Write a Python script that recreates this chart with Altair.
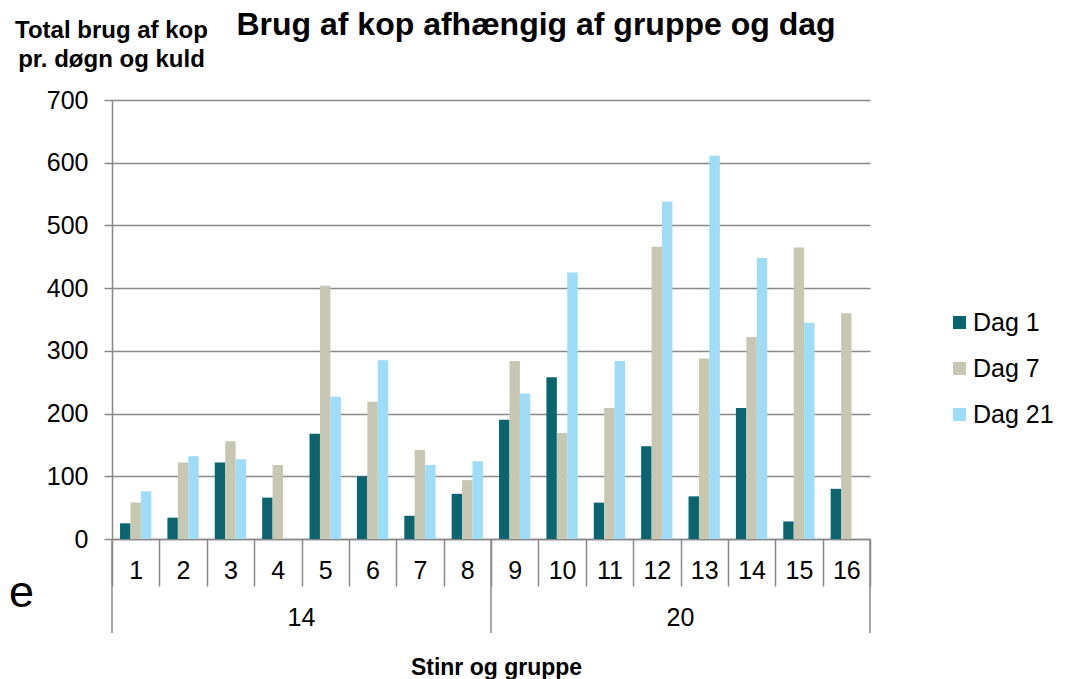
import altair as alt
import pandas as pd

# ---- data ----
stinr = [str(i) for i in range(1, 17)]
gruppe = ["14"] * 8 + ["20"] * 8
series = ["Dag 1", "Dag 7", "Dag 21"]
dag1 = [25, 34, 122, 66, 168, 100, 37, 72, 190, 258, 58, 148, 68, 209, 28, 80]
dag7 = [58, 122, 156, 118, 404, 219, 142, 94, 284, 169, 209, 466, 288, 322, 465, 360]
dag21 = [76, 132, 127, None, 227, 285, 118, 124, 232, 425, 284, 538, 611, 448, 345, None]
colors = ["#0a6570", "#c8c8b2", "#9fdcf7"]
groups = ["14", "20"]

rows = []
for s, vals in zip(series, [dag1, dag7, dag21]):
    for st, g, v in zip(stinr, gruppe, vals):
        if v is not None:
            rows.append({"stinr": st, "gruppe": g, "serie": s, "value": v})
df = pd.DataFrame(rows)

# group label position: boundary in the middle of each group's members
grp_rows = []
for g in groups:
    members = [st for st, gg in zip(stinr, gruppe) if gg == g]
    grp_rows.append({"gruppe": g, "mid": members[len(members) // 2]})
grp_df = pd.DataFrame(grp_rows)

# separators: start of each group and end of the last one
starts = pd.DataFrame({"edge": [[st for st, gg in zip(stinr, gruppe) if gg == g][0] for g in groups]})
ends = pd.DataFrame({"edge": [stinr[-1]]})

W, H = 758, 439
FONT = "Liberation Sans"
GRID = "#898989"

xscale = alt.Scale(domain=stinr, paddingInner=0, paddingOuter=0)
xaxis = alt.Axis(
    title="Stinr og gruppe",
    titleFont=FONT,
    titleFontSize=23,
    titleFontWeight="bold",
    titleColor="black",
    titleX=W / 2 + 5,
    titleY=128,
    titleBaseline="middle",
    labelAngle=0,
    labelFont=FONT,
    labelFontSize=25,
    labelColor="black",
    labelBaseline="middle",
    labelPadding=-16,
    tickBand="extent",
    tickSize=47,
    tickColor=GRID,
    tickWidth=1.5,
    domainColor=GRID,
    domainWidth=1.5,
    grid=False,
)

bars = alt.Chart(df).mark_bar().encode(
    x=alt.X("stinr:N", sort=stinr, scale=xscale, axis=xaxis),
    xOffset=alt.XOffset(
        "serie:N",
        sort=series,
        scale=alt.Scale(domain=series, paddingInner=0, paddingOuter=0.77),
    ),
    y=alt.Y(
        "value:Q",
        scale=alt.Scale(domain=[0, 700]),
        axis=alt.Axis(
            values=list(range(0, 701, 100)),
            title=["Total brug af kop", "pr. døgn og kuld"],
            titleAngle=0,
            titleAlign="center",
            titleBaseline="alphabetic",
            titleX=-1,
            titleY=-63,
            titleLineHeight=29,
            titleFont=FONT,
            titleFontSize=24,
            titleFontWeight="bold",
            titleColor="black",
            labelFont=FONT,
            labelFontSize=25,
            labelColor="black",
            labelPadding=16,
            tickSize=8,
            tickColor=GRID,
            tickWidth=1.5,
            domainColor=GRID,
            domainWidth=1.5,
            grid=True,
            gridColor=GRID,
            gridWidth=1.5,
        ),
    ),
    color=alt.Color(
        "serie:N",
        sort=series,
        scale=alt.Scale(domain=series, range=colors),
        legend=alt.Legend(
            title=None,
            orient="none",
            legendX=835,
            legendY=210,
            symbolType="square",
            symbolSize=169,
            symbolStrokeWidth=0,
            labelFont=FONT,
            labelFontSize=25,
            labelColor="black",
            labelOffset=1,
            rowPadding=20,
            padding=0,
        ),
    ),
)

grp_text = alt.Chart(grp_df).mark_text(
    font=FONT, fontSize=25, color="black", baseline="middle", align="center"
).encode(
    x=alt.X("mid:N", bandPosition=0, scale=xscale, axis=xaxis),
    y=alt.value(518),
    text="gruppe:N",
)

sep_start = alt.Chart(starts).mark_rule(color=GRID, strokeWidth=1.5).encode(
    x=alt.X("edge:N", bandPosition=0, scale=xscale, axis=xaxis),
    y=alt.value(H),
    y2=alt.value(H + 94),
)
sep_end = alt.Chart(ends).mark_rule(color=GRID, strokeWidth=1.5).encode(
    x=alt.X("edge:N", bandPosition=1, scale=xscale, axis=xaxis),
    y=alt.value(H),
    y2=alt.value(H + 94),
)

title = alt.Chart(pd.DataFrame({"t": ["Brug af kop afhængig af gruppe og dag"]})).mark_text(
    font=FONT, fontSize=32, fontWeight="bold", color="black", align="center", baseline="alphabetic"
).encode(x=alt.value(424), y=alt.value(-65), text="t:N")

stray = alt.Chart(pd.DataFrame({"t": ["e"]})).mark_text(
    font=FONT, fontSize=45, color="black", align="left", baseline="alphabetic"
).encode(x=alt.value(-103), y=alt.value(507), text="t:N")

chart = alt.layer(bars, grp_text, sep_start, sep_end, title, stray).properties(
    width=W,
    height=H,
    autosize=alt.AutoSizeParams(type="none"),
    padding={"left": 104, "top": 92, "right": 191, "bottom": 140},
).configure_view(stroke=None)

chart.save("out.html", embed_options={"renderer": "svg", "actions": False})
